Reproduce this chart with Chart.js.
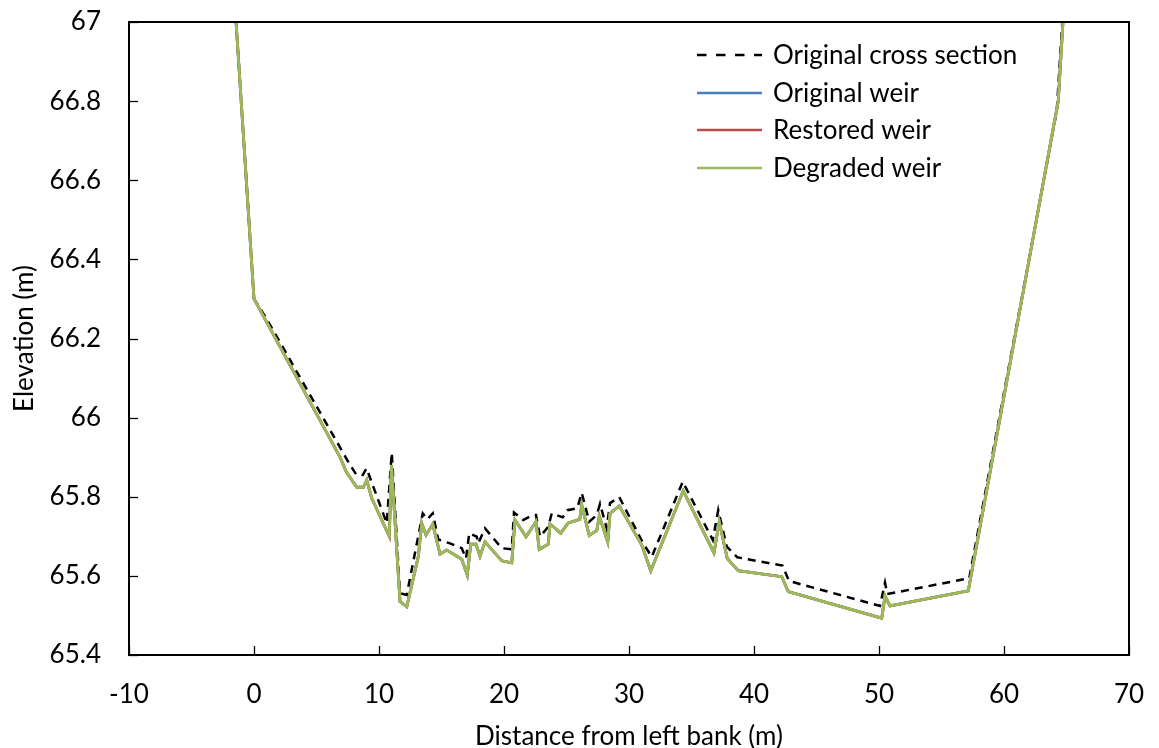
<!DOCTYPE html>
<html>
<head>
<meta charset="utf-8">
<script src="https://cdn.jsdelivr.net/npm/chart.js@4.4.1/dist/chart.umd.min.js"></script>
<style>
html,body{margin:0;padding:0;background:#fff;}
#wrap{width:1159px;height:748px;position:relative;}
</style>
</head>
<body>
<div id="wrap"><canvas id="c" width="1159" height="748"></canvas></div>
<script>
// Original cross section (dashed)
const originalX = [-1.6, 0, 1.0, 7.6, 8.2, 8.7, 9.0, 10.62, 11.02, 11.68, 12.22, 13.5, 13.86, 14.3, 14.74, 15.68, 16.62, 16.96, 17.22, 17.82, 17.94, 18.48, 19.82, 20.62, 20.8, 21.54, 22.3, 22.56, 22.88, 23.54, 23.82, 24.7, 25.06, 25.86, 26.22, 26.82, 27.42, 27.68, 28.22, 28.48, 29.22, 31.14, 31.82, 34.3, 36.7, 37.14, 37.82, 38.66, 42.28, 42.8, 50.08, 50.48, 50.66, 57.22, 64.22, 65.0];
const originalElev = [67.08, 66.30, 66.25, 65.885, 65.855, 65.855, 65.872, 65.733, 65.911, 65.556, 65.552, 65.758, 65.743, 65.758, 65.692, 65.682, 65.670, 65.644, 65.708, 65.699, 65.682, 65.720, 65.670, 65.667, 65.760, 65.741, 65.754, 65.754, 65.699, 65.724, 65.758, 65.748, 65.766, 65.771, 65.810, 65.737, 65.754, 65.782, 65.720, 65.784, 65.799, 65.682, 65.648, 65.838, 65.691, 65.766, 65.674, 65.647, 65.626, 65.587, 65.524, 65.583, 65.554, 65.594, 66.775, 67.17];

// Weir profiles (original, restored and degraded coincide at this scale)
const weirX = [-1.6, 0, 6.88, 7.4, 8.22, 8.74, 9.02, 9.42, 10.82, 11.0, 11.68, 12.22, 13.14, 13.42, 13.76, 14.3, 14.88, 15.42, 16.62, 17.06, 17.34, 17.76, 18.08, 18.48, 19.82, 20.62, 20.88, 21.76, 22.56, 22.82, 23.54, 23.68, 24.54, 25.14, 26.06, 26.22, 26.82, 27.42, 27.62, 28.3, 28.48, 29.22, 31.02, 31.74, 34.34, 36.8, 37.22, 37.86, 38.74, 42.22, 42.74, 50.22, 50.48, 50.88, 57.14, 64.34, 65.0];
const originalWeirElev = [67.08, 66.30, 65.90, 65.862, 65.824, 65.824, 65.842, 65.796, 65.700, 65.880, 65.535, 65.522, 65.648, 65.733, 65.703, 65.731, 65.655, 65.665, 65.642, 65.602, 65.680, 65.680, 65.650, 65.686, 65.638, 65.633, 65.741, 65.699, 65.737, 65.667, 65.680, 65.731, 65.708, 65.734, 65.743, 65.779, 65.702, 65.715, 65.751, 65.686, 65.758, 65.777, 65.678, 65.613, 65.815, 65.658, 65.737, 65.644, 65.613, 65.598, 65.560, 65.493, 65.549, 65.524, 65.562, 66.800, 67.15];
const restoredWeirElev = [67.08, 66.30, 65.90, 65.862, 65.824, 65.824, 65.842, 65.796, 65.700, 65.880, 65.535, 65.522, 65.648, 65.733, 65.703, 65.731, 65.655, 65.665, 65.642, 65.602, 65.680, 65.680, 65.650, 65.686, 65.638, 65.633, 65.741, 65.699, 65.737, 65.667, 65.680, 65.731, 65.708, 65.734, 65.743, 65.779, 65.702, 65.715, 65.751, 65.686, 65.758, 65.777, 65.678, 65.613, 65.815, 65.658, 65.737, 65.644, 65.613, 65.598, 65.560, 65.493, 65.549, 65.524, 65.562, 66.800, 67.15];
const degradedWeirElev = [67.08, 66.30, 65.90, 65.862, 65.824, 65.824, 65.842, 65.796, 65.700, 65.880, 65.535, 65.522, 65.648, 65.733, 65.703, 65.731, 65.655, 65.665, 65.642, 65.602, 65.680, 65.680, 65.650, 65.686, 65.638, 65.633, 65.741, 65.699, 65.737, 65.667, 65.680, 65.731, 65.708, 65.734, 65.743, 65.779, 65.702, 65.715, 65.751, 65.686, 65.758, 65.777, 65.678, 65.613, 65.815, 65.658, 65.737, 65.644, 65.613, 65.598, 65.560, 65.493, 65.549, 65.524, 65.562, 66.800, 67.15];

const seriesNames = ['Original cross section', 'Original weir', 'Restored weir', 'Degraded weir'];
const xTicks = [-10, 0, 10, 20, 30, 40, 50, 60, 70];
const yTicks = [65.4, 65.6, 65.8, 66, 66.2, 66.4, 66.6, 66.8, 67];

function pts(xs, ys){ return xs.map((x,i)=>({x:x, y:ys[i]})); }

const FONT = 'Lato, "Open Sans", sans-serif';
const FS = 26;

const framePlugin = {
  id: 'frame',
  afterDraw(chart){
    const ctx = chart.ctx, a = chart.chartArea;
    ctx.save();
    ctx.strokeStyle = '#000';
    ctx.lineWidth = 2;
    ctx.strokeRect(a.left, a.top, a.right - a.left, a.bottom - a.top);
    // inward ticks
    const xs = chart.scales.x, ys = chart.scales.y;
    ctx.lineWidth = 1.3;
    xTicks.forEach(v=>{
      const px = Math.round(xs.getPixelForValue(v)) + 0.5;
      ctx.beginPath(); ctx.moveTo(px, a.bottom); ctx.lineTo(px, a.bottom - 9); ctx.stroke();
    });
    yTicks.forEach(v=>{
      const py = Math.round(ys.getPixelForValue(v)) + 0.5;
      ctx.beginPath(); ctx.moveTo(a.left, py); ctx.lineTo(a.left + 9, py); ctx.stroke();
    });
    // legend
    const rows = [55, 93, 130, 168];
    chart.data.datasets.forEach((ds, i)=>{
      const y = rows[i];
      ctx.beginPath();
      ctx.setLineDash(i === 0 ? [9.5, 9.5] : []);
      ctx.strokeStyle = ds.borderColor;
      ctx.lineWidth = 2.5;
      ctx.moveTo(697, y); ctx.lineTo(762, y); ctx.stroke();
      ctx.setLineDash([]);
      ctx.fillStyle = '#000';
      ctx.font = FS + 'px ' + FONT;
      ctx.textBaseline = 'middle';
      ctx.textAlign = 'left';
      ctx.fillText(ds.label, 773, y + 1);
    });
    ctx.restore();
  }
};

new Chart(document.getElementById('c'), {
  type: 'scatter',
  data: {
    datasets: [
      {label: seriesNames[0], data: pts(originalX, originalElev), showLine: true, borderColor: '#000000', borderDash: [8,6], borderWidth: 2.5, pointRadius: 0, order: 4, tension: 0},
      {label: seriesNames[1], data: pts(weirX, originalWeirElev), showLine: true, borderColor: '#4A7EBB', borderWidth: 2.8, pointRadius: 0, order: 3, tension: 0},
      {label: seriesNames[2], data: pts(weirX, restoredWeirElev), showLine: true, borderColor: '#BE4B48', borderWidth: 2.8, pointRadius: 0, order: 2, tension: 0},
      {label: seriesNames[3], data: pts(weirX, degradedWeirElev), showLine: true, borderColor: '#9BBB59', borderWidth: 2.8, pointRadius: 0, order: 1, tension: 0}
    ]
  },
  options: {
    responsive: false,
    animation: false,
    devicePixelRatio: 1,
    layout: {padding: {top: 22, right: 30, left: 0, bottom: 0}},
    plugins: {legend: {display: false}, tooltip: {enabled: false}},
    scales: {
      x: {
        type: 'linear', min: -10, max: 70,
        afterBuildTicks(s){ s.ticks = xTicks.map(v=>({value:v})); },
        afterFit(s){ s.height = 93; s.paddingLeft = 0; s.paddingRight = 0; },
        grid: {display: false, drawTicks: false},
        border: {display: true, color: '#000', width: 2},
        ticks: {font: {family: FONT, size: FS}, color: '#000', padding: 24, maxRotation: 0},
        title: {display: true, text: 'Distance from left bank (m)', font: {family: FONT, size: FS, lineHeight: 1}, color: '#000', padding: {top: 0, bottom: -2}}
      },
      y: {
        type: 'linear', min: 65.4, max: 67,
        afterBuildTicks(s){ s.ticks = yTicks.map(v=>({value:v})); },
        afterFit(s){ s.width = 129; s.paddingTop = 0; s.paddingBottom = 0; },
        grid: {display: false, drawTicks: false},
        border: {display: true, color: '#000', width: 2},
        ticks: {font: {family: FONT, size: FS}, color: '#000', padding: 28, callback: v => String(Math.round(v*10)/10)},
        title: {display: true, text: 'Elevation (m)', font: {family: FONT, size: FS, lineHeight: 1}, color: '#000', padding: {top: 12, bottom: 0}}
      }
    }
  },
  plugins: [framePlugin]
});
</script>
</body>
</html>
